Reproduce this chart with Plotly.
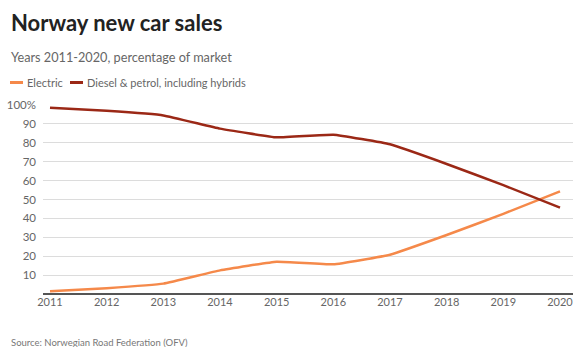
import plotly.graph_objects as go

years = [2011, 2012, 2013, 2014, 2015, 2016, 2017, 2018, 2019, 2020]
electric = [1.4, 3.1, 5.5, 12.5, 17.1, 15.7, 20.8, 31.2, 42.4, 54.3]
diesel_petrol = [98.6, 96.9, 94.5, 87.5, 82.9, 84.3, 79.2, 68.8, 57.6, 45.7]
y_ticks = [10, 20, 30, 40, 50, 60, 70, 80, 90, 100]
y_ticktext = ["10", "20", "30", "40", "50", "60", "70", "80", "90", "100%"]
series_names = ["Electric", "Diesel & petrol, including hybrids"]

ORANGE = "#F5894A"
DARKRED = "#9B2816"
FONT = "Lato"

fig = go.Figure()
fig.add_trace(go.Scatter(x=years, y=electric, mode="lines", name=series_names[0],
                         showlegend=False,
                         line=dict(color=ORANGE, width=2.5, shape="spline", smoothing=0.3)))
fig.add_trace(go.Scatter(x=years, y=diesel_petrol, mode="lines", name=series_names[1],
                         showlegend=False,
                         line=dict(color=DARKRED, width=2.5, shape="spline", smoothing=0.3)))

L, R, T, B = 43, 0, 105, 53
W, H = 573, 347
pw, ph = W - L - R, H - T - B

def px(x):
    return (x - L) / pw

def py(y):
    return (H - B - y) / ph

# custom legend (line samples + text)
legend_y = 82.5
shapes = [
    dict(type="line", xref="paper", yref="paper", x0=px(10), x1=px(23), y0=py(legend_y), y1=py(legend_y),
         line=dict(color=ORANGE, width=3)),
    dict(type="line", xref="paper", yref="paper", x0=px(70), x1=px(83), y0=py(legend_y), y1=py(legend_y),
         line=dict(color=DARKRED, width=3)),
]

fig.update_layout(
    width=W, height=H,
    margin=dict(l=L, r=R, t=T, b=B, autoexpand=False),
    paper_bgcolor="white", plot_bgcolor="white",
    font=dict(family=FONT, color="#666666"),
    showlegend=False,
    shapes=shapes,
    xaxis=dict(range=[2010.8765, 2020.2294], tickvals=years, ticktext=[str(y) for y in years],
               showgrid=False, zeroline=False, showline=False, ticks="",
               ticklabeloverflow="allow",
               tickfont=dict(size=11, color="#666666", family=FONT)),
    yaxis=dict(range=[0, 100], tickvals=y_ticks, ticktext=y_ticktext,
               showgrid=True, gridcolor="#DCDCDC", gridwidth=1,
               zeroline=True, zerolinecolor="#555555", zerolinewidth=1.5,
               showline=False, ticks="", ticklabelstandoff=6,
               tickfont=dict(size=11.5, color="#666666", family=FONT)),
    annotations=[
        dict(text="<b>Norway new car sales</b>", xref="paper", yref="paper",
             x=px(9), y=py(22), xanchor="left", yanchor="middle", showarrow=False,
             font=dict(size=22, color="#222222", family=FONT)),
        dict(text="Years 2011-2020, percentage of market", xref="paper", yref="paper",
             x=px(9), y=py(57), xanchor="left", yanchor="middle", showarrow=False,
             font=dict(size=12.7, color="#666666", family=FONT)),
        dict(text=series_names[0], xref="paper", yref="paper",
             x=px(25), y=py(legend_y), xanchor="left", yanchor="middle", showarrow=False,
             font=dict(size=11, color="#666666", family=FONT)),
        dict(text=series_names[1], xref="paper", yref="paper",
             x=px(85), y=py(legend_y), xanchor="left", yanchor="middle", showarrow=False,
             font=dict(size=11, color="#666666", family=FONT)),
        dict(text="Source: Norwegian Road Federation (OFV)", xref="paper", yref="paper",
             x=px(9), y=py(342), xanchor="left", yanchor="middle", showarrow=False,
             font=dict(size=9.5, color="#777777", family=FONT)),
    ],
)

fig.write_html("out.html")
